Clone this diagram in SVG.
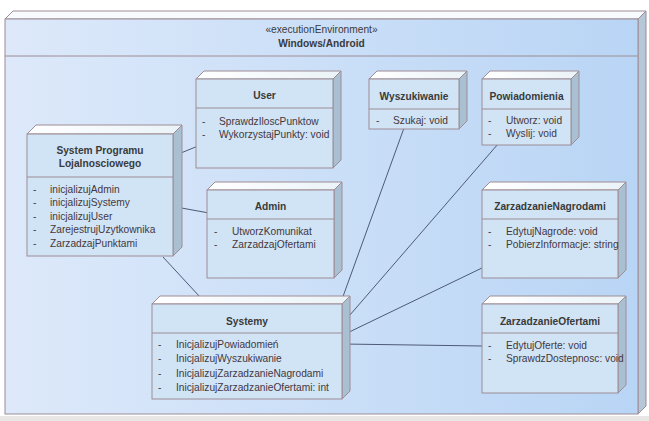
<svg xmlns="http://www.w3.org/2000/svg" width="649" height="421" viewBox="0 0 649 421">
<defs>
<linearGradient id="envg" x1="0" y1="0" x2="1" y2="0">
<stop offset="0" stop-color="#dde9fa"/>
<stop offset="1" stop-color="#b9d5f5"/>
</linearGradient>
<linearGradient id="topg" x1="0" y1="0" x2="1" y2="0">
<stop offset="0" stop-color="#ffffff"/>
<stop offset="1" stop-color="#eaf3f8"/>
</linearGradient>
<style>
.edge{fill:none;stroke:#4d5a78;stroke-width:1}
.front{fill:#d0e4f5;stroke:#9e8c95;stroke-width:1}
.top{fill:url(#topg);stroke:#9e8c95;stroke-width:1}
.side{fill:#a9c0d2;stroke:#9e8c95;stroke-width:1}
.sep{stroke:#9e8c95;stroke-width:1}
.t{font-family:"Liberation Sans",Arial,sans-serif;font-size:10.2px;font-weight:bold;fill:#3a3a3a;text-anchor:middle}
.s{font-family:"Liberation Sans",Arial,sans-serif;font-size:10.2px;fill:#3a3a3a;text-anchor:middle}
.i{font-family:"Liberation Sans",Arial,sans-serif;font-size:10.2px;fill:#45373f}
</style>
</defs>
<rect x="0" y="0" width="649" height="421" fill="#ffffff"/>
<rect x="0" y="416" width="649" height="5" fill="#e9e7e5"/>

<g id="env">
<polygon points="5,19 13,11 646,11 638,19" fill="#f8fbfd" stroke="#9e8c95"/>
<polygon points="638,19 646,11 646,406 638,414" fill="#b6c8d8" stroke="#9e8c95"/>
<rect x="5" y="19" width="633" height="395" fill="url(#envg)" stroke="#9e8c95"/>
<line x1="5" y1="56" x2="638" y2="56" class="sep"/>
<text x="321.5" y="33" class="s">«executionEnvironment»</text>
<text x="321.5" y="47" class="t">Windows/Android</text>
</g>

<g id="connectors">
<line class="edge" x1="176" y1="155" x2="198" y2="146"/>
<line class="edge" x1="176" y1="207" x2="209" y2="213"/>
<line class="edge" x1="163" y1="257" x2="200" y2="297"/>
<line class="edge" x1="404" y1="128" x2="341" y2="302"/>
<line class="edge" x1="498" y1="144" x2="343" y2="323"/>
<line class="edge" x1="484" y1="267" x2="343" y2="335"/>
<line class="edge" x1="343" y1="344" x2="483" y2="346"/>
</g>

<g id="node-spl">
<polygon class="top" points="27,134 36,125 182,125 173,134"/>
<polygon class="side" points="173,134 182,125 182,247 173,256"/>
<rect class="front" x="27" y="134" width="146" height="122"/>
<line class="sep" x1="27" y1="177" x2="173" y2="177"/>
<text x="100" y="153.7" class="t">System Programu</text>
<text x="100" y="166.7" class="t">Lojalnosciowego</text>
<text class="i" x="33" y="192.7">-</text><text class="i" x="50" y="192.7">inicjalizujAdmin</text>
<text class="i" x="33" y="206.2">-</text><text class="i" x="50" y="206.2">inicjalizujSystemy</text>
<text class="i" x="33" y="219.7">-</text><text class="i" x="50" y="219.7">inicjalizujUser</text>
<text class="i" x="33" y="233.4">-</text><text class="i" x="50" y="233.4">ZarejestrujUzytkownika</text>
<text class="i" x="33" y="247.4">-</text><text class="i" x="50" y="247.4">ZarzadzajPunktami</text>
</g>

<g id="node-user">
<polygon class="top" points="196,79 204,71 341,71 333,79"/>
<polygon class="side" points="333,79 341,71 341,160 333,168"/>
<rect class="front" x="196" y="79" width="137" height="89"/>
<line class="sep" x1="196" y1="108" x2="333" y2="108"/>
<text x="264.5" y="98.7" class="t">User</text>
<text class="i" x="202" y="124.7">-</text><text class="i" x="219" y="124.7">SprawdzIloscPunktow</text>
<text class="i" x="202" y="137.7">-</text><text class="i" x="219" y="137.7">WykorzystajPunkty: void</text>
</g>

<g id="node-admin">
<polygon class="top" points="207,190 215,182 342,182 334,190"/>
<polygon class="side" points="334,190 342,182 342,270 334,278"/>
<rect class="front" x="207" y="190" width="127" height="88"/>
<line class="sep" x1="207" y1="219" x2="334" y2="219"/>
<text x="270.5" y="209.7" class="t">Admin</text>
<text class="i" x="214" y="234.7">-</text><text class="i" x="232" y="234.7">UtworzKomunikat</text>
<text class="i" x="214" y="247.7">-</text><text class="i" x="232" y="247.7">ZarzadzajOfertami</text>
</g>

<g id="node-wyszukiwanie">
<polygon class="top" points="369,79 377,71 467,71 459,79"/>
<polygon class="side" points="459,79 467,71 467,121 459,129"/>
<rect class="front" x="369" y="79" width="90" height="50"/>
<line class="sep" x1="369" y1="109" x2="459" y2="109"/>
<text x="414" y="99.7" class="t">Wyszukiwanie</text>
<text class="i" x="376" y="123.7">-</text><text class="i" x="393" y="123.7">Szukaj: void</text>
</g>

<g id="node-powiadomienia">
<polygon class="top" points="482,79 490,71 579,71 571,79"/>
<polygon class="side" points="571,79 579,71 579,137 571,145"/>
<rect class="front" x="482" y="79" width="89" height="66"/>
<line class="sep" x1="482" y1="109" x2="571" y2="109"/>
<text x="526.5" y="99.7" class="t">Powiadomienia</text>
<text class="i" x="488" y="123.7">-</text><text class="i" x="506" y="123.7">Utworz: void</text>
<text class="i" x="488" y="136.7">-</text><text class="i" x="506" y="136.7">Wyslij: void</text>
</g>

<g id="node-zarzadzanienagrodami">
<polygon class="top" points="482,190 490,182 626,182 618,190"/>
<polygon class="side" points="618,190 626,182 626,270 618,278"/>
<rect class="front" x="482" y="190" width="136" height="88"/>
<line class="sep" x1="482" y1="219" x2="618" y2="219"/>
<text x="550" y="209.7" class="t">ZarzadzanieNagrodami</text>
<text class="i" x="488" y="234.7">-</text><text class="i" x="506" y="234.7">EdytujNagrode: void</text>
<text class="i" x="488" y="247.7">-</text><text class="i" x="506" y="247.7">PobierzInformacje: string</text>
</g>

<g id="node-zarzadzanieofertami">
<polygon class="top" points="482,304 490,296 626,296 618,304"/>
<polygon class="side" points="618,304 626,296 626,385 618,393"/>
<rect class="front" x="482" y="304" width="136" height="89"/>
<line class="sep" x1="482" y1="333" x2="618" y2="333"/>
<text x="550" y="324.7" class="t">ZarzadzanieOfertami</text>
<text class="i" x="488" y="348.7">-</text><text class="i" x="506" y="348.7">EdytujOferte: void</text>
<text class="i" x="488" y="362.2">-</text><text class="i" x="506" y="362.2">SprawdzDostepnosc: void</text>
</g>

<g id="node-systemy">
<polygon class="top" points="152,304 160,296 350,296 342,304"/>
<polygon class="side" points="342,304 350,296 350,391 342,399"/>
<rect class="front" x="152" y="304" width="190" height="95"/>
<line class="sep" x1="152" y1="333" x2="342" y2="333"/>
<text x="247" y="324.7" class="t">Systemy</text>
<text class="i" x="158" y="347.7">-</text><text class="i" x="176" y="347.7">InicjalizujPowiadomień</text>
<text class="i" x="158" y="362.2">-</text><text class="i" x="176" y="362.2">InicjalizujWyszukiwanie</text>
<text class="i" x="158" y="376.5">-</text><text class="i" x="176" y="376.5">InicjalizujZarzadzanieNagrodami</text>
<text class="i" x="158" y="390.7">-</text><text class="i" x="176" y="390.7">InicjalizujZarzadzanieOfertami: int</text>
</g>
</svg>
